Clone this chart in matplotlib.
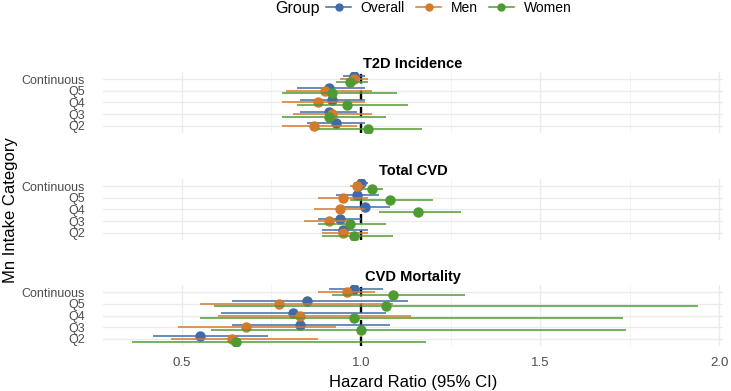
import numpy as np
import matplotlib
matplotlib.use('Agg')
import matplotlib.pyplot as plt
from matplotlib.lines import Line2D

plt.rcParams['font.family'] = ['Liberation Sans', 'DejaVu Sans']

# Categories and groups
categories = ['Continuous', 'Q5', 'Q4', 'Q3', 'Q2']
outcomes = ['T2D Incidence', 'Total CVD', 'CVD Mortality']
groups = ['Overall', 'Men', 'Women']
group_colors = ['#3F6CA8', '#D47A2C', '#4F9A33']

# T2D incidence
t2d_overall_hr = [0.98, 0.91, 0.92, 0.91, 0.93]
t2d_overall_lo = [0.95, 0.82, 0.83, 0.83, 0.85]
t2d_overall_hi = [1.01, 1.01, 1.01, 0.99, 1.01]
t2d_men_hr = [0.98, 0.90, 0.88, 0.92, 0.87]
t2d_men_lo = [0.94, 0.79, 0.78, 0.81, 0.78]
t2d_men_hi = [1.02, 1.03, 1.01, 1.03, 0.99]
t2d_women_hr = [0.97, 0.92, 0.96, 0.91, 1.02]
t2d_women_lo = [0.93, 0.78, 0.82, 0.78, 0.88]
t2d_women_hi = [1.02, 1.10, 1.13, 1.07, 1.17]

# Total CVD
cvd_overall_hr = [1.00, 0.99, 1.01, 0.94, 0.95]
cvd_overall_lo = [0.98, 0.93, 0.95, 0.88, 0.89]
cvd_overall_hi = [1.02, 1.05, 1.08, 1.00, 1.02]
cvd_men_hr = [0.99, 0.95, 0.94, 0.91, 0.95]
cvd_men_lo = [0.97, 0.88, 0.87, 0.84, 0.89]
cvd_men_hi = [1.01, 1.02, 1.01, 0.98, 1.02]
cvd_women_hr = [1.03, 1.08, 1.16, 0.97, 0.98]
cvd_women_lo = [1.00, 0.97, 1.05, 0.88, 0.89]
cvd_women_hi = [1.06, 1.20, 1.28, 1.07, 1.09]

# CVD mortality
mort_overall_hr = [0.98, 0.85, 0.81, 0.83, 0.55]
mort_overall_lo = [0.91, 0.64, 0.61, 0.64, 0.42]
mort_overall_hi = [1.06, 1.13, 1.07, 1.08, 0.74]
mort_men_hr = [0.96, 0.77, 0.83, 0.68, 0.64]
mort_men_lo = [0.88, 0.55, 0.60, 0.49, 0.47]
mort_men_hi = [1.04, 1.09, 1.14, 0.93, 0.88]
mort_women_hr = [1.09, 1.07, 0.98, 1.00, 0.65]
mort_women_lo = [0.92, 0.59, 0.55, 0.58, 0.36]
mort_women_hi = [1.29, 1.94, 1.73, 1.74, 1.18]

x_ticks = [0.5, 1.0, 1.5, 2.0]
x_tick_labels = ['0.5', '1.0', '1.5', '2.0']

panel_data = [
    [(t2d_overall_hr, t2d_overall_lo, t2d_overall_hi),
     (t2d_men_hr, t2d_men_lo, t2d_men_hi),
     (t2d_women_hr, t2d_women_lo, t2d_women_hi)],
    [(cvd_overall_hr, cvd_overall_lo, cvd_overall_hi),
     (cvd_men_hr, cvd_men_lo, cvd_men_hi),
     (cvd_women_hr, cvd_women_lo, cvd_women_hi)],
    [(mort_overall_hr, mort_overall_lo, mort_overall_hi),
     (mort_men_hr, mort_men_lo, mort_men_hi),
     (mort_women_hr, mort_women_lo, mort_women_hi)],
]

W, H = 731, 391
fig = plt.figure(figsize=(W / 100, H / 100), dpi=100)

# panel boxes in pixels (left, top, right, bottom)
panel_px = [(103, 72, 723, 133), (103, 179, 723, 240), (103, 285, 723, 346)]
dodge = [0.22, 0.0, -0.22]
ypos = np.arange(len(categories))[::-1] + 1  # Continuous at top

for p, (title, data, box) in enumerate(zip(outcomes, panel_data, panel_px)):
    l, t, r, b = box
    ax = fig.add_axes([l / W, 1 - b / H, (r - l) / W, (b - t) / H])
    ax.set_xlim(0.28, 2.01)
    ax.set_ylim(0.4, len(categories) + 0.6)

    # grid
    for xv in x_ticks:
        ax.axvline(xv, color='#EBEBEB', lw=1.0, zorder=0)
    for xv in [0.75, 1.25, 1.75]:
        ax.axvline(xv, color='#F2F2F2', lw=0.6, zorder=0)
    for yv in ypos:
        ax.axhline(yv, color='#EBEBEB', lw=1.0, zorder=0)

    ax.axvline(1.0, color='black', lw=1.7, ls=(0, (4, 3)), zorder=1)

    for g, (hr, lo, hi) in enumerate(data):
        yy = ypos + dodge[g]
        ax.hlines(yy, lo, hi, color=group_colors[g], lw=1.1, zorder=2 + g)
        ax.plot(hr, yy, 'o', color=group_colors[g], ms=6.5, zorder=2 + g)

    for s in ax.spines.values():
        s.set_visible(False)
    ax.set_yticks(ypos)
    ax.set_yticklabels(categories, fontsize=9, color='#4D4D4D')
    ax.tick_params(axis='y', length=0, pad=13)
    ax.set_xticks(x_ticks)
    if p == len(outcomes) - 1:
        ax.set_xticklabels(x_tick_labels, fontsize=9.5, color='#4D4D4D')
        ax.tick_params(axis='x', length=0, pad=8)
        ax.set_xlabel('Hazard Ratio (95% CI)', fontsize=12, labelpad=4)
    else:
        ax.set_xticklabels([])
        ax.tick_params(axis='x', length=0)
    ax.set_title(title, fontsize=10.5, fontweight='bold', pad=3)

fig.text(11 / W, 1 - 210 / H, 'Mn Intake Category', rotation=90,
         ha='center', va='center', fontsize=12)

# legend
fig.text(275 / W, 1 - 8 / H, 'Group', ha='left', va='center', fontsize=11.5)
handles = [Line2D([0], [0], color=c, lw=1.1, marker='o', ms=5) for c in group_colors]
fig.legend(handles, groups, loc='center left', bbox_to_anchor=(326 / W, 1 - 8 / H),
           ncol=3, frameon=False, fontsize=10, handlelength=1.8,
           handletextpad=0.7, columnspacing=0.8, borderpad=0, borderaxespad=0)

fig.savefig('out.png', dpi=100)
